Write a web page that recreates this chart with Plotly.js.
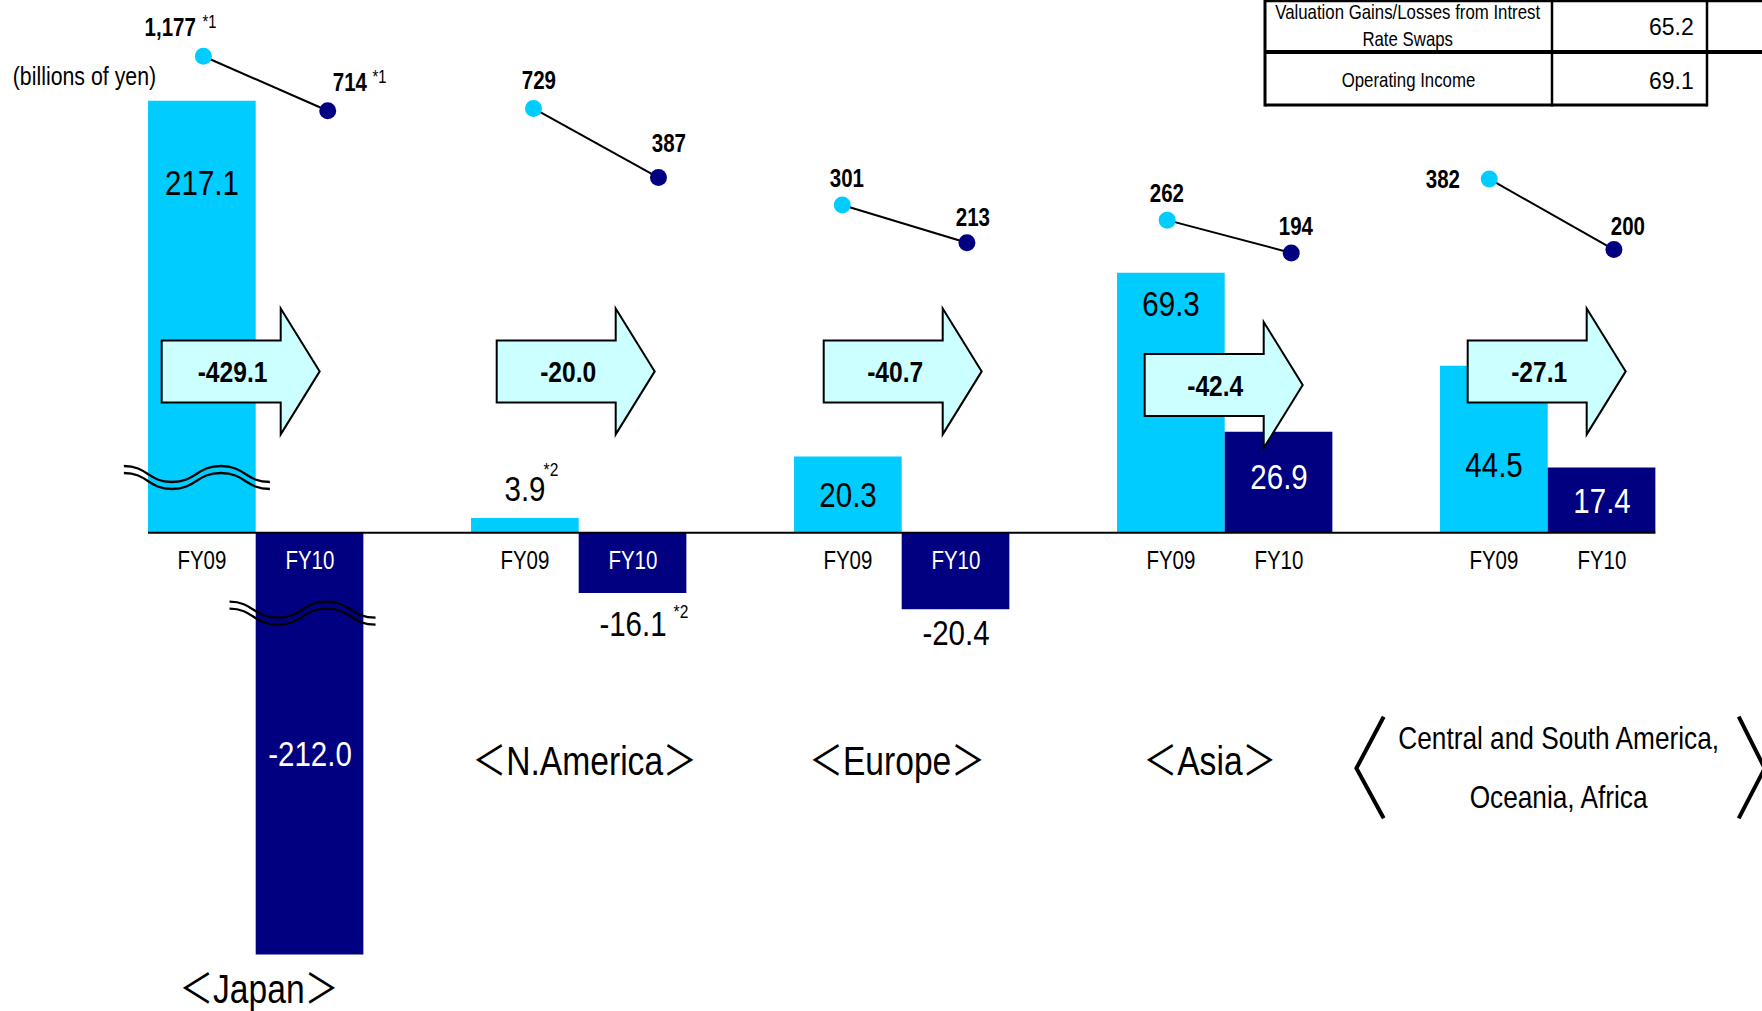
<!DOCTYPE html>
<html>
<head>
<meta charset="utf-8">
<script src="https://cdn.plot.ly/plotly-3.0.1.min.js"></script>
<style>
  html, body { margin: 0; padding: 0; background: #ffffff; }
  #chart { width: 1762px; height: 1011px; }
</style>
</head>
<body>
<div id="chart"></div>
<script>
// ---- data -----------------------------------------------------------------
const regions = ['Japan', 'N.America', 'Europe', 'Asia', 'Central and South America,|Oceania, Africa'];
const periods = ['FY09', 'FY10'];

// operating income by region (billions of yen)
const incomeFY09 = [217.1, 3.9, 20.3, 69.3, 44.5];
const incomeFY10 = [-212.0, -16.1, -20.4, 26.9, 17.4];
const incomeNoteFY09 = ['', '*2', '', '', ''];
const incomeNoteFY10 = ['', '*2', '', '', ''];

// volume by region, plotted as connected dots
const volumeFY09 = [1177, 729, 301, 262, 382];
const volumeFY10 = [714, 387, 213, 194, 200];
const volumeNote = ['*1', '', '', '', ''];

// reference table, top right
const tableLabels = ['Valuation Gains/Losses from Intrest<br>Rate Swaps', 'Operating Income'];
const tableValues = [65.2, 69.1];

const unitNote = '(billions of yen)';

// ---- geometry & style -----------------------------------------------------
const W = 1762, H = 1011;
const PLOT_L = 94.2, PLOT_R = 1709.2;     // x-domain in px
const ZERO_PX = 532.7;                    // pixel row of the zero line
const PX_PER_UNIT = 3.75;                 // main income scale
const JP_UNITS_PER_PX = 0.5025;           // compressed scale for Japan (broken bars)
const VOL_LOG_RANGE = [-0.7301, 3.2946];  // log axis for the volume dots

const C09 = '#00CCFF', C10 = '#000080';
const FONT = 'Liberation Sans, Arial, Noto Sans CJK JP, sans-serif';
const NARROW = 0.82;                      // horizontal squeeze for the condensed lettering

const nCat = regions.length;
const catW = (PLOT_R - PLOT_L) / nCat;
const BAR_W = 1 / 3;
const cxPx = i => PLOT_L + catW * (i + 0.5);
const px = x => x / W;
const py = y => 1 - y / H;
const idxAll = regions.map((_, i) => i);
const idxRest = idxAll.slice(1);

// label placement: [fraction of bar value, y shift px]
const valueAnchor09 = [[1, -82], [1, 30], [0.5, 0], [1, -31], [0.5, -15]];
const valueAnchor10 = [[0.5, -10], [1, -30], [1, -23], [0.5, 6], [0.5, 0]];
const valueColor10 = ['#ffffff', '#000000', '#000000', '#ffffff', '#ffffff'];
const noteShift09 = [25.7, 49];
const noteShift10 = [48.5, -18.6];

// dot x offsets (category units) and label shifts [dx, dy] px
const dotDx09 = [-0.162, -0.14, -0.184, -0.178, -0.181];
const dotDx10 = [0.223, 0.247, 0.202, 0.206, 0.205];
const dotLabel09 = [[-33, 29], [6, 28], [4.5, 27], [0, 27], [-46, 0]];
const dotLabel10 = [[22, 29], [11, 35], [5.6, 26], [5, 27], [14, 24]];
const dotNote09 = [6, 34], dotNote10 = [52, 34];

// change arrows: body-left offset from group centre, centre row
const arrowDx = [-94, -82, -78, -80, -80];
const arrowCy = [371.4, 371.4, 371.4, 385, 371.4];

const regionShift = [3, 6, -5, -15, 11];

// ---- traces ---------------------------------------------------------------
const traces = [];

// Japan on its own compressed axis (the bars carry break marks)
traces.push({ type: 'bar', x: [0], y: [incomeFY09[0]], yaxis: 'y2', width: BAR_W, offset: -BAR_W,
  marker: { color: C09, line: { width: 0 } }, hoverinfo: 'skip' });
traces.push({ type: 'bar', x: [0], y: [incomeFY10[0]], yaxis: 'y2', width: BAR_W, offset: 0,
  marker: { color: C10, line: { width: 0 } }, hoverinfo: 'skip' });

traces.push({ type: 'bar', x: idxRest, y: incomeFY09.slice(1), yaxis: 'y', width: BAR_W, offset: -BAR_W,
  marker: { color: C09, line: { width: 0 } }, hoverinfo: 'skip' });
traces.push({ type: 'bar', x: idxRest, y: incomeFY10.slice(1), yaxis: 'y', width: BAR_W, offset: 0,
  marker: { color: C10, line: { width: 0 } }, hoverinfo: 'skip' });

const dotX09 = idxAll.map(i => i + dotDx09[i]);
const dotX10 = idxAll.map(i => i + dotDx10[i]);
const segX = [], segY = [];
idxAll.forEach(i => {
  segX.push(dotX09[i], dotX10[i], null);
  segY.push(volumeFY09[i], volumeFY10[i], null);
});
traces.push({ type: 'scatter', mode: 'lines', x: segX, y: segY, yaxis: 'y3',
  line: { color: '#000000', width: 2 }, connectgaps: false, hoverinfo: 'skip' });
traces.push({ type: 'scatter', mode: 'markers', x: dotX09, y: volumeFY09, yaxis: 'y3',
  marker: { color: C09, size: 17, line: { width: 0 } }, hoverinfo: 'skip' });
traces.push({ type: 'scatter', mode: 'markers', x: dotX10, y: volumeFY10, yaxis: 'y3',
  marker: { color: C10, size: 17, line: { width: 0 } }, hoverinfo: 'skip' });

// ---- annotations ----------------------------------------------------------
const ann = [];
const txt = (o) => Object.assign({ showarrow: false, xanchor: 'center', yanchor: 'middle' }, o);

// bar values
idxAll.forEach(i => {
  const yr = i === 0 ? 'y2' : 'y';
  const a9 = valueAnchor09[i], a10 = valueAnchor10[i];
  ann.push(txt({ xref: 'x', yref: yr, x: i - BAR_W / 2, y: incomeFY09[i] * a9[0], yshift: a9[1],
    text: incomeFY09[i].toFixed(1), font: { family: FONT, size: 36, color: '#000000' } }));
  ann.push(txt({ xref: 'x', yref: yr, x: i + BAR_W / 2, y: incomeFY10[i] * a10[0], yshift: a10[1],
    text: incomeFY10[i].toFixed(1), font: { family: FONT, size: 36, color: valueColor10[i] } }));
  if (incomeNoteFY09[i]) {
    ann.push(txt({ xref: 'x', yref: yr, x: i - BAR_W / 2, y: incomeFY09[i], xshift: noteShift09[0], yshift: noteShift09[1],
      text: incomeNoteFY09[i], font: { family: FONT, size: 19, color: '#000000' } }));
  }
  if (incomeNoteFY10[i]) {
    ann.push(txt({ xref: 'x', yref: yr, x: i + BAR_W / 2, y: incomeFY10[i], xshift: noteShift10[0], yshift: noteShift10[1],
      text: incomeNoteFY10[i], font: { family: FONT, size: 19, color: '#000000' } }));
  }
  // period labels under the axis
  ann.push(txt({ xref: 'x', yref: 'y', x: i - BAR_W / 2, y: 0, yshift: -27,
    text: periods[0], font: { family: FONT, size: 25, color: '#000000' } }));
  ann.push(txt({ xref: 'x', yref: 'y', x: i + BAR_W / 2, y: 0, yshift: -27,
    text: periods[1], font: { family: FONT, size: 25, color: incomeFY10[i] < 0 ? '#ffffff' : '#000000' } }));
});

// volume dot labels
const fmtInt = v => v.toLocaleString('en-US');
idxAll.forEach(i => {
  ann.push(txt({ xref: 'x', yref: 'y3', x: dotX09[i], y: Math.log10(volumeFY09[i]),
    xshift: dotLabel09[i][0], yshift: dotLabel09[i][1],
    text: '<b>' + fmtInt(volumeFY09[i]) + '</b>', font: { family: FONT, size: 25, color: '#000000' } }));
  ann.push(txt({ xref: 'x', yref: 'y3', x: dotX10[i], y: Math.log10(volumeFY10[i]),
    xshift: dotLabel10[i][0], yshift: dotLabel10[i][1],
    text: '<b>' + fmtInt(volumeFY10[i]) + '</b>', font: { family: FONT, size: 25, color: '#000000' } }));
  if (volumeNote[i]) {
    ann.push(txt({ xref: 'x', yref: 'y3', x: dotX09[i], y: Math.log10(volumeFY09[i]),
      xshift: dotNote09[0], yshift: dotNote09[1], text: volumeNote[i],
      font: { family: FONT, size: 18, color: '#000000' } }));
    ann.push(txt({ xref: 'x', yref: 'y3', x: dotX10[i], y: Math.log10(volumeFY10[i]),
      xshift: dotNote10[0], yshift: dotNote10[1], text: volumeNote[i],
      font: { family: FONT, size: 18, color: '#000000' } }));
  }
});

// ---- shapes ---------------------------------------------------------------
const shapes = [];
const pathOf = pts => pts.map((p, k) => (k === 0 ? 'M ' : 'L ') + px(p[0]).toFixed(5) + ',' + py(p[1]).toFixed(5)).join(' ');

// zero line
shapes.push({ type: 'line', xref: 'x', yref: 'y', x0: -BAR_W, x1: nCat - 1 + BAR_W, y0: 0, y1: 0,
  line: { color: '#000000', width: 2 } });

// change arrows with labels
idxAll.forEach(i => {
  const L = cxPx(i) + arrowDx[i], cy = arrowCy[i];
  const pts = [[L, cy - 31], [L + 119, cy - 31], [L + 119, cy - 63], [L + 158, cy],
               [L + 119, cy + 63], [L + 119, cy + 31], [L, cy + 31]];
  shapes.push({ type: 'path', xref: 'paper', yref: 'paper', path: pathOf(pts) + ' Z',
    fillcolor: '#CCFFFF', line: { color: '#000000', width: 2 } });
  const delta = (incomeFY10[i] - incomeFY09[i]).toFixed(1);
  ann.push(txt({ xref: 'paper', yref: 'paper', x: px(L + 71), y: py(cy),
    text: '<b>' + delta + '</b>', font: { family: FONT, size: 30, color: '#000000' } }));
});

// break marks on the Japan bars
function wavePath(xc, yHigh) {
  const xs = [xc - 78, xc - 30, xc + 19, xc + 68];
  const yLow = yHigh + 16;
  const ys = [yHigh, yLow, yHigh, yLow];
  let d = 'M ' + px(xs[0]).toFixed(5) + ',' + py(ys[0]).toFixed(5);
  for (let k = 1; k < 4; k++) {
    const h = (xs[k] - xs[k - 1]) / 2;
    d += ' C ' + px(xs[k - 1] + h).toFixed(5) + ',' + py(ys[k - 1]).toFixed(5) + ' ' +
         px(xs[k] - h).toFixed(5) + ',' + py(ys[k]).toFixed(5) + ' ' +
         px(xs[k]).toFixed(5) + ',' + py(ys[k]).toFixed(5);
  }
  return d;
}
const jp09 = cxPx(0) - catW * BAR_W / 2, jp10 = cxPx(0) + catW * BAR_W / 2;
[[jp09, 466], [jp10 - 2, 601.7]].forEach(([xc, y0]) => {
  [0, 7].forEach(dy => shapes.push({ type: 'path', xref: 'paper', yref: 'paper', path: wavePath(xc, y0 + dy),
    fillcolor: 'rgba(0,0,0,0)', line: { color: '#000000', width: 2.3 } }));
});

// region labels
idxAll.forEach(i => {
  const parts = regions[i].split('|');
  if (parts.length === 1) {
    ann.push(txt({ xref: 'x', yref: 'paper', x: i, xshift: regionShift[i], y: py(i === 0 ? 989 : 761),
      text: '＜' + parts[0] + '＞', font: { family: FONT, size: 41, color: '#000000' } }));
  } else {
    ann.push(txt({ xref: 'x', yref: 'paper', x: i, xshift: regionShift[i], y: py(738),
      text: parts[0], font: { family: FONT, size: 32, color: '#000000' } }));
    ann.push(txt({ xref: 'x', yref: 'paper', x: i, xshift: regionShift[i], y: py(797),
      text: parts[1], font: { family: FONT, size: 32, color: '#000000' } }));
    const c = cxPx(i);
    shapes.push({ type: 'path', xref: 'paper', yref: 'paper',
      path: pathOf([[c - 164, 716.7], [c - 191.3, 768.3], [c - 164, 818.3]]),
      fillcolor: 'rgba(0,0,0,0)', line: { color: '#000000', width: 4 } });
    shapes.push({ type: 'path', xref: 'paper', yref: 'paper',
      path: pathOf([[c + 191, 716.7], [c + 217, 768.3], [c + 191, 818.3]]),
      fillcolor: 'rgba(0,0,0,0)', line: { color: '#000000', width: 4 } });
  }
});

// unit note
ann.push(txt({ xref: 'paper', yref: 'paper', x: px(84), y: py(76), text: unitNote,
  font: { family: FONT, size: 26, color: '#000000' } }));

// table in the top-right corner
const tLine = (x0, y0, x1, y1, w) => shapes.push({ type: 'line', xref: 'paper', yref: 'paper',
  x0: px(x0), y0: py(y0), x1: px(x1), y1: py(y1), line: { color: '#000000', width: w } });
tLine(1265, 1, 1762, 1, 2.5);
tLine(1265, 52, 1762, 52, 4);
tLine(1265, 105, 1707, 105, 3);
tLine(1265, 0, 1265, 106.5, 3);
tLine(1552, 0, 1552, 106.5, 2.5);
tLine(1707, 0, 1707, 106.5, 2.5);
const rowCy = [25, 79];
tableLabels.forEach((lab, r) => {
  ann.push(txt({ xref: 'paper', yref: 'paper', x: px(1408), y: py(rowCy[r]), text: lab,
    font: { family: FONT, size: 20.5, color: '#000000' } }));
  ann.push(txt({ xref: 'paper', yref: 'paper', x: px(1696), xanchor: 'right', y: py(rowCy[r] + 2),
    text: tableValues[r].toFixed(1), font: { family: FONT, size: 23, color: '#000000' } }));
});

// ---- layout ---------------------------------------------------------------
const layout = {
  width: W, height: H,
  margin: { l: 0, r: 0, t: 0, b: 0, pad: 0 },
  paper_bgcolor: '#ffffff', plot_bgcolor: '#ffffff',
  showlegend: false, hovermode: false, barmode: 'overlay',
  xaxis: { domain: [PLOT_L / W, PLOT_R / W], range: [-0.5, nCat - 0.5], visible: false, fixedrange: true },
  yaxis: { domain: [0, 1], range: [-(H - ZERO_PX) / PX_PER_UNIT, ZERO_PX / PX_PER_UNIT], visible: false, fixedrange: true },
  yaxis2: { overlaying: 'y', range: [-(H - ZERO_PX) * JP_UNITS_PER_PX, ZERO_PX * JP_UNITS_PER_PX], visible: false, fixedrange: true },
  yaxis3: { overlaying: 'y', type: 'log', range: VOL_LOG_RANGE, visible: false, fixedrange: true },
  shapes: shapes,
  annotations: ann
};

// condensed lettering: squeeze each annotation horizontally about its own centre
// (the table figures keep their normal width)
function condenseText(gd) {
  const wide = new Set(tableValues.map(v => v.toFixed(1)));
  gd.querySelectorAll('.annotation-text').forEach(t => {
    if (wide.has(t.textContent.trim())) return;
    t.style.transformBox = 'fill-box';
    t.style.transformOrigin = 'center';
    t.style.transform = 'scaleX(' + NARROW + ')';
  });
}

Plotly.newPlot('chart', traces, layout, { displayModeBar: false, staticPlot: true })
  .then(gd => condenseText(gd));
</script>
</body>
</html>
